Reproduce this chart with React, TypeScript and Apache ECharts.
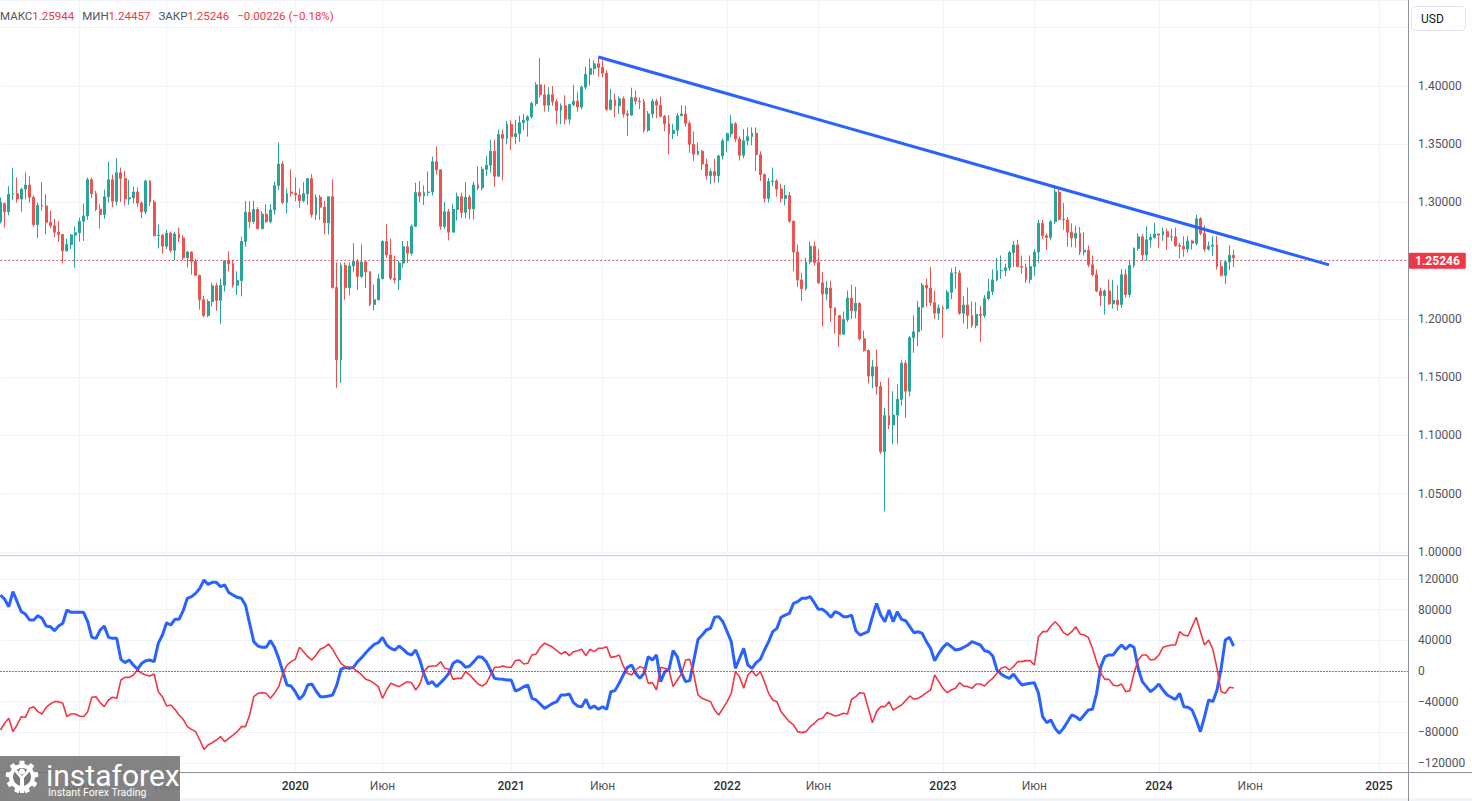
import React, { useEffect, useRef } from 'react';
import * as echarts from 'echarts';

// ---------- time axis ----------
const FIRST_WEEK_UTC = Date.UTC(2018, 7, 27); // Monday 2018-08-27
const WEEK_SLOTS = 340;

const TIME_TICKS: [string, string][] = [
  ['2019-01-07', '2019'], ['2019-06-03', 'Июн'],
  ['2020-01-06', '2020'], ['2020-06-01', 'Июн'],
  ['2021-01-04', '2021'], ['2021-06-07', 'Июн'],
  ['2022-01-03', '2022'], ['2022-06-06', 'Июн'],
  ['2023-01-02', '2023'], ['2023-06-05', 'Июн'],
  ['2024-01-01', '2024'], ['2024-06-03', 'Июн'],
  ['2025-01-06', '2025'],
];

// ---------- weekly candles [open, high, low, close] ----------
const K_2018 = [
  [1.2835, 1.3043, 1.2820, 1.3000], [1.2990, 1.3000, 1.2785, 1.2920], [1.2920, 1.3140, 1.2890, 1.3070],
  [1.3070, 1.3298, 1.3020, 1.3075], [1.3075, 1.3215, 1.3000, 1.3030], [1.3030, 1.3125, 1.2920, 1.3115],
  [1.3115, 1.3258, 1.3030, 1.3150], [1.3150, 1.3225, 1.3000, 1.3045], [1.3045, 1.3060, 1.2790, 1.2810],
  [1.2810, 1.3000, 1.2695, 1.2975], [1.2975, 1.3176, 1.2930, 1.2970], [1.2970, 1.3070, 1.2725, 1.2830],
  [1.2830, 1.2930, 1.2780, 1.2800], [1.2800, 1.2860, 1.2705, 1.2745], [1.2745, 1.2840, 1.2660, 1.2725],
  [1.2725, 1.2730, 1.2477, 1.2585], [1.2585, 1.2690, 1.2580, 1.2640], [1.2640, 1.2730, 1.2600, 1.2720],
  [1.2720, 1.2795, 1.2440, 1.2740],
];
const K_2019 = [
  [1.2740, 1.2870, 1.2665, 1.2840], [1.2840, 1.2990, 1.2670, 1.2885], [1.2885, 1.3215, 1.2850, 1.3195],
  [1.3195, 1.3215, 1.3040, 1.3075], [1.3075, 1.3100, 1.2925, 1.2940], [1.2940, 1.2985, 1.2775, 1.2895],
  [1.2895, 1.3110, 1.2860, 1.3050], [1.3050, 1.3350, 1.3000, 1.3195], [1.3195, 1.3240, 1.2960, 1.3010],
  [1.3010, 1.3380, 1.2975, 1.3255], [1.3255, 1.3300, 1.3005, 1.3205], [1.3205, 1.3270, 1.2975, 1.3030],
  [1.3030, 1.3195, 1.2980, 1.3040], [1.3040, 1.3135, 1.2990, 1.3090], [1.3090, 1.3130, 1.2960, 1.2995],
  [1.2995, 1.3010, 1.2865, 1.2920], [1.2920, 1.3195, 1.2900, 1.3185], [1.3185, 1.3190, 1.2970, 1.3005],
  [1.3005, 1.3020, 1.2710, 1.2715], [1.2715, 1.2810, 1.2605, 1.2720], [1.2720, 1.2730, 1.2560, 1.2625],
  [1.2625, 1.2765, 1.2600, 1.2737], [1.2737, 1.2750, 1.2570, 1.2590], [1.2590, 1.2750, 1.2505, 1.2730],
  [1.2730, 1.2785, 1.2660, 1.2695], [1.2695, 1.2720, 1.2505, 1.2525], [1.2525, 1.2585, 1.2440, 1.2575],
  [1.2575, 1.2580, 1.2380, 1.2495], [1.2495, 1.2520, 1.2370, 1.2375], [1.2375, 1.2380, 1.2080, 1.2165],
  [1.2165, 1.2200, 1.2015, 1.2030], [1.2030, 1.2170, 1.2015, 1.2150], [1.2150, 1.2310, 1.2105, 1.2285],
  [1.2285, 1.2310, 1.2070, 1.2160], [1.2160, 1.2345, 1.1958, 1.2290], [1.2290, 1.2500, 1.2235, 1.2500],
  [1.2500, 1.2582, 1.2410, 1.2475], [1.2475, 1.2505, 1.2270, 1.2290], [1.2290, 1.2410, 1.2205, 1.2330],
  [1.2330, 1.2705, 1.2195, 1.2665], [1.2665, 1.3012, 1.2620, 1.2915], [1.2915, 1.3010, 1.2780, 1.2835],
  [1.2835, 1.3015, 1.2820, 1.2940], [1.2940, 1.2960, 1.2770, 1.2775], [1.2775, 1.2925, 1.2770, 1.2900],
  [1.2900, 1.2985, 1.2825, 1.2835], [1.2835, 1.2985, 1.2820, 1.2935], [1.2935, 1.3180, 1.2895, 1.3145],
  [1.3145, 1.3515, 1.3105, 1.3330], [1.3330, 1.3355, 1.2985, 1.3000], [1.3000, 1.3120, 1.2905, 1.3075],
  [1.3090, 1.3285, 1.3050, 1.3080],
];
const K_2020 = [
  [1.3080, 1.3215, 1.3010, 1.3065], [1.3065, 1.3120, 1.2955, 1.3015], [1.3015, 1.3175, 1.3000, 1.3075],
  [1.3075, 1.3210, 1.2980, 1.3205], [1.3205, 1.3245, 1.2870, 1.2895], [1.2895, 1.3070, 1.2850, 1.3045],
  [1.3045, 1.3065, 1.2850, 1.2960], [1.2960, 1.3015, 1.2725, 1.2825], [1.2825, 1.3050, 1.2725, 1.3050],
  [1.3050, 1.3200, 1.2260, 1.2270], [1.2270, 1.2485, 1.1409, 1.1650], [1.1650, 1.2485, 1.1450, 1.2460],
  [1.2460, 1.2485, 1.2165, 1.2270], [1.2270, 1.2485, 1.2205, 1.2455], [1.2455, 1.2650, 1.2405, 1.2495],
  [1.2495, 1.2515, 1.2250, 1.2365], [1.2365, 1.2640, 1.2350, 1.2490], [1.2490, 1.2500, 1.2265, 1.2405],
  [1.2405, 1.2410, 1.2110, 1.2125], [1.2125, 1.2295, 1.2075, 1.2165], [1.2165, 1.2385, 1.2160, 1.2345],
  [1.2345, 1.2675, 1.2340, 1.2665], [1.2665, 1.2813, 1.2525, 1.2550], [1.2550, 1.2690, 1.2335, 1.2350],
  [1.2350, 1.2545, 1.2305, 1.2335], [1.2335, 1.2500, 1.2250, 1.2480], [1.2480, 1.2670, 1.2440, 1.2620],
  [1.2620, 1.2670, 1.2480, 1.2565], [1.2565, 1.2810, 1.2545, 1.2795], [1.2795, 1.3170, 1.2790, 1.3085],
  [1.3085, 1.3185, 1.3005, 1.3055], [1.3055, 1.3145, 1.2980, 1.3085], [1.3085, 1.3265, 1.3055, 1.3090],
  [1.3090, 1.3395, 1.3060, 1.3350], [1.3350, 1.3480, 1.3240, 1.3280], [1.3280, 1.3285, 1.2765, 1.2795],
  [1.2795, 1.3005, 1.2775, 1.2920], [1.2920, 1.2945, 1.2675, 1.2745], [1.2745, 1.2985, 1.2745, 1.2940],
  [1.2940, 1.3085, 1.2845, 1.3050], [1.3050, 1.3085, 1.2865, 1.2915], [1.2915, 1.3175, 1.2865, 1.3045],
  [1.3045, 1.3065, 1.2855, 1.2945], [1.2945, 1.3180, 1.2855, 1.3150], [1.3150, 1.3310, 1.3105, 1.3125],
  [1.3125, 1.3310, 1.3105, 1.3285], [1.3285, 1.3400, 1.3230, 1.3320], [1.3320, 1.3540, 1.3255, 1.3440],
  [1.3440, 1.3540, 1.3135, 1.3225], [1.3225, 1.3625, 1.3225, 1.3585], [1.3585, 1.3625, 1.3190, 1.3550],
  [1.3550, 1.3700, 1.3500, 1.3670],
];
const K_2021 = [
  [1.3670, 1.3705, 1.3450, 1.3565], [1.3565, 1.3710, 1.3500, 1.3590], [1.3590, 1.3745, 1.3520, 1.3685],
  [1.3685, 1.3760, 1.3620, 1.3705], [1.3705, 1.3750, 1.3565, 1.3735], [1.3735, 1.3865, 1.3720, 1.3850],
  [1.3850, 1.4035, 1.3830, 1.4010], [1.4010, 1.4240, 1.3900, 1.3925], [1.3925, 1.4015, 1.3780, 1.3835],
  [1.3835, 1.3990, 1.3780, 1.3925], [1.3925, 1.4000, 1.3830, 1.3865], [1.3865, 1.3890, 1.3670, 1.3790],
  [1.3790, 1.3850, 1.3670, 1.3830], [1.3830, 1.3920, 1.3670, 1.3715], [1.3715, 1.3845, 1.3670, 1.3840],
  [1.3840, 1.4010, 1.3825, 1.3870], [1.3870, 1.3950, 1.3780, 1.3820], [1.3820, 1.4005, 1.3800, 1.3990],
  [1.3990, 1.4165, 1.3970, 1.4100], [1.4100, 1.4235, 1.4005, 1.4150], [1.4150, 1.4220, 1.4095, 1.4190],
  [1.4190, 1.4250, 1.4080, 1.4160], [1.4160, 1.4220, 1.4075, 1.4110], [1.4110, 1.4135, 1.3785, 1.3800],
  [1.3800, 1.3975, 1.3790, 1.3880], [1.3880, 1.3935, 1.3730, 1.3830], [1.3830, 1.3910, 1.3760, 1.3890],
  [1.3890, 1.3910, 1.3730, 1.3760], [1.3760, 1.3790, 1.3570, 1.3750], [1.3750, 1.3985, 1.3745, 1.3900],
  [1.3900, 1.3960, 1.3840, 1.3870], [1.3870, 1.3900, 1.3800, 1.3865], [1.3865, 1.3890, 1.3600, 1.3620],
  [1.3620, 1.3785, 1.3605, 1.3760], [1.3760, 1.3890, 1.3725, 1.3870], [1.3870, 1.3890, 1.3725, 1.3835],
  [1.3835, 1.3910, 1.3730, 1.3740], [1.3740, 1.3750, 1.3610, 1.3675], [1.3675, 1.3750, 1.3412, 1.3590],
  [1.3590, 1.3675, 1.3545, 1.3620], [1.3620, 1.3770, 1.3570, 1.3745], [1.3745, 1.3835, 1.3740, 1.3760],
  [1.3760, 1.3830, 1.3650, 1.3680], [1.3680, 1.3700, 1.3425, 1.3500], [1.3500, 1.3610, 1.3355, 1.3415],
  [1.3415, 1.3515, 1.3405, 1.3440], [1.3440, 1.3450, 1.3280, 1.3330], [1.3330, 1.3375, 1.3195, 1.3230],
  [1.3230, 1.3290, 1.3160, 1.3265], [1.3265, 1.3375, 1.3170, 1.3230], [1.3230, 1.3410, 1.3170, 1.3400],
  [1.3400, 1.3550, 1.3370, 1.3530],
];
const K_2022 = [
  [1.3530, 1.3600, 1.3430, 1.3590], [1.3590, 1.3750, 1.3560, 1.3675], [1.3675, 1.3690, 1.3520, 1.3545],
  [1.3545, 1.3565, 1.3360, 1.3405], [1.3405, 1.3630, 1.3380, 1.3530], [1.3530, 1.3645, 1.3490, 1.3565],
  [1.3565, 1.3645, 1.3490, 1.3595], [1.3595, 1.3645, 1.3270, 1.3410], [1.3410, 1.3440, 1.3185, 1.3240],
  [1.3240, 1.3250, 1.3000, 1.3035], [1.3035, 1.3210, 1.3000, 1.3180], [1.3180, 1.3300, 1.3140, 1.3185],
  [1.3185, 1.3200, 1.3050, 1.3115], [1.3115, 1.3160, 1.3000, 1.3035], [1.3035, 1.3150, 1.2975, 1.3060],
  [1.3060, 1.3090, 1.2825, 1.2840], [1.2840, 1.2845, 1.2410, 1.2575], [1.2575, 1.2640, 1.2275, 1.2335],
  [1.2335, 1.2395, 1.2155, 1.2260], [1.2260, 1.2525, 1.2245, 1.2490], [1.2490, 1.2665, 1.2470, 1.2625],
  [1.2625, 1.2665, 1.2460, 1.2485], [1.2485, 1.2600, 1.2300, 1.2310], [1.2310, 1.2405, 1.1935, 1.2215],
  [1.2215, 1.2325, 1.2160, 1.2265], [1.2265, 1.2330, 1.1975, 1.2095], [1.2095, 1.2100, 1.1875, 1.2030],
  [1.2030, 1.2030, 1.1760, 1.1870], [1.1870, 1.2065, 1.1865, 1.1995], [1.1995, 1.2245, 1.1975, 1.2180],
  [1.2180, 1.2295, 1.2000, 1.2070], [1.2070, 1.2275, 1.2005, 1.2135], [1.2135, 1.2140, 1.1815, 1.1830],
  [1.1830, 1.1900, 1.1720, 1.1730], [1.1730, 1.1740, 1.1445, 1.1510], [1.1510, 1.1650, 1.1405, 1.1590],
  [1.1590, 1.1740, 1.1350, 1.1420], [1.1420, 1.1460, 1.0840, 1.0860], [1.0860, 1.1235, 1.0350, 1.1170],
  [1.1170, 1.1495, 1.1055, 1.1090], [1.1090, 1.1380, 1.0925, 1.1175], [1.1175, 1.1440, 1.0925, 1.1310],
  [1.1310, 1.1645, 1.1255, 1.1620], [1.1620, 1.1645, 1.1150, 1.1380], [1.1380, 1.1855, 1.1335, 1.1840],
  [1.1840, 1.2030, 1.1710, 1.1890], [1.1890, 1.2155, 1.1765, 1.2100], [1.2100, 1.2310, 1.1900, 1.2290],
  [1.2290, 1.2345, 1.2105, 1.2265], [1.2265, 1.2446, 1.2110, 1.2140], [1.2140, 1.2240, 1.2000, 1.2050],
  [1.2050, 1.2125, 1.1990, 1.2095],
];
const K_2023 = [
  [1.2095, 1.2115, 1.1840, 1.2090], [1.2090, 1.2250, 1.2080, 1.2230], [1.2230, 1.2435, 1.2170, 1.2395],
  [1.2395, 1.2450, 1.2260, 1.2395], [1.2395, 1.2420, 1.2035, 1.2050], [1.2050, 1.2195, 1.1960, 1.2120],
  [1.2120, 1.2270, 1.1915, 1.2030], [1.2030, 1.2150, 1.1925, 1.1945], [1.1945, 1.2145, 1.1920, 1.2040],
  [1.2040, 1.2110, 1.1800, 1.2030], [1.2030, 1.2205, 1.2010, 1.2175], [1.2175, 1.2345, 1.2160, 1.2235],
  [1.2235, 1.2425, 1.2205, 1.2335], [1.2335, 1.2525, 1.2325, 1.2415], [1.2415, 1.2545, 1.2345, 1.2415],
  [1.2415, 1.2475, 1.2365, 1.2440], [1.2440, 1.2585, 1.2415, 1.2570], [1.2570, 1.2670, 1.2445, 1.2635],
  [1.2635, 1.2680, 1.2445, 1.2450], [1.2450, 1.2545, 1.2390, 1.2445], [1.2445, 1.2475, 1.2310, 1.2340],
  [1.2340, 1.2545, 1.2305, 1.2450], [1.2450, 1.2600, 1.2370, 1.2575], [1.2575, 1.2850, 1.2480, 1.2820],
  [1.2820, 1.2850, 1.2685, 1.2715], [1.2715, 1.2735, 1.2590, 1.2700], [1.2700, 1.2850, 1.2675, 1.2835],
  [1.2835, 1.3142, 1.2815, 1.3090], [1.3090, 1.3120, 1.2845, 1.2855], [1.2855, 1.2995, 1.2765, 1.2850],
  [1.2850, 1.2875, 1.2620, 1.2745], [1.2745, 1.2820, 1.2615, 1.2695], [1.2695, 1.2800, 1.2615, 1.2735],
  [1.2735, 1.2790, 1.2550, 1.2575], [1.2575, 1.2745, 1.2545, 1.2590], [1.2590, 1.2630, 1.2445, 1.2465],
  [1.2465, 1.2545, 1.2365, 1.2380], [1.2380, 1.2425, 1.2230, 1.2240], [1.2240, 1.2270, 1.2110, 1.2200],
  [1.2200, 1.2255, 1.2037, 1.2240], [1.2240, 1.2340, 1.2120, 1.2130], [1.2130, 1.2335, 1.2090, 1.2160],
  [1.2160, 1.2290, 1.2070, 1.2125], [1.2125, 1.2430, 1.2095, 1.2380], [1.2380, 1.2430, 1.2185, 1.2210],
  [1.2210, 1.2505, 1.2185, 1.2460], [1.2460, 1.2615, 1.2440, 1.2605], [1.2605, 1.2735, 1.2585, 1.2705],
  [1.2705, 1.2730, 1.2500, 1.2550], [1.2550, 1.2795, 1.2500, 1.2680], [1.2680, 1.2730, 1.2615, 1.2700],
  [1.2700, 1.2825, 1.2690, 1.2730],
];
const K_2024 = [
  [1.2730, 1.2735, 1.2610, 1.2720], [1.2720, 1.2785, 1.2670, 1.2750], [1.2750, 1.2775, 1.2595, 1.2705],
  [1.2705, 1.2775, 1.2670, 1.2705], [1.2705, 1.2785, 1.2620, 1.2630], [1.2630, 1.2650, 1.2520, 1.2625],
  [1.2625, 1.2710, 1.2535, 1.2600], [1.2600, 1.2710, 1.2570, 1.2670], [1.2670, 1.2680, 1.2595, 1.2650],
  [1.2650, 1.2894, 1.2630, 1.2860], [1.2860, 1.2875, 1.2720, 1.2735], [1.2735, 1.2805, 1.2575, 1.2600],
  [1.2600, 1.2665, 1.2585, 1.2625], [1.2625, 1.2710, 1.2540, 1.2635], [1.2635, 1.2710, 1.2425, 1.2450],
  [1.2450, 1.2500, 1.2365, 1.2375], [1.2375, 1.2500, 1.2300, 1.2490], [1.2490, 1.2634, 1.2420, 1.2547],
  [1.25472, 1.25944, 1.24457, 1.25246],
];

// ---------- positioning indicator (weekly) ----------
const BLUE_2018 = [99100, 93500, 83900, 103500, 90400, 77400, 74300, 66500, 66500, 72200, 68700, 58700, 57800, 52600, 58700, 62200, 79600, 76500, 76500];
const BLUE_2019 = [76500, 76500, 64300, 43900, 42600, 53500, 58700, 43900, 42600, 42600, 15200, 10900, 14300, 7800, 2200, 10000, 13500, 14300, 12200, 36100, 46900, 63000, 60000, 67400, 67400, 78700, 94800, 96900, 101300, 107800, 118700, 113000, 115600, 115600, 110000, 112200, 102200, 99100, 96100, 94800, 86100, 62200, 38300, 32600, 30900, 30900, 39600, 30900, 16500, -900, -18300, -19600];
const BLUE_2020 = [-27000, -36900, -31300, -18300, -17000, -26100, -33500, -33500, -32600, -31300, -18300, 2200, 4800, 3500, 4800, 12200, 17400, 23900, 29600, 34800, 36900, 43900, 33900, 29600, 27400, 32600, 28300, 23000, 20900, 27400, 14300, -3900, -17000, -13900, -20400, -15200, -9600, -3000, 10000, 13500, 10900, 4800, 6500, 12200, 18700, 17800, 12200, 1300, -9600, -10400, -10900, -11700];
const BLUE_2021 = [-11700, -26100, -23900, -20400, -18300, -35600, -37800, -43000, -48700, -45600, -42200, -40000, -31300, -31300, -30000, -41300, -45600, -46500, -36900, -48700, -45600, -50000, -46500, -50000, -27000, -25600, -16100, -5200, 4800, 7800, -3000, -9600, -3000, 18700, 14300, 20900, -13900, -900, 2200, 26500, 18700, -2200, -13900, -12600, 14300, 41300, 46900, 53500, 55600, 70000, 70900, 64300];
const BLUE_2022 = [51300, 38300, 3500, 16500, 29600, 7800, 3500, 10900, 15200, 27400, 38300, 51300, 55600, 70000, 73000, 75200, 88200, 90400, 94800, 94800, 96900, 89100, 80400, 80400, 76100, 70000, 77400, 75200, 70900, 70900, 73000, 52600, 46900, 49100, 51300, 70900, 88200, 73000, 64300, 79600, 64300, 77400, 67400, 65600, 57800, 50000, 51300, 49100, 38300, 29600, 13500, 23000];
const BLUE_2023 = [30900, 36100, 31700, 27400, 28300, 30900, 33900, 38300, 36100, 33900, 26500, 25200, 19600, 1300, -3900, -7400, -9600, -3900, -11700, -18300, -17000, -16100, -15200, -29100, -59600, -67400, -63900, -74800, -81300, -74800, -66100, -57400, -59600, -63900, -57400, -50900, -50000, -29100, 5700, 18700, 20900, 20900, 28300, 33900, 28300, 33900, 30900, 3500, -13900, -20400, -27000, -22600];
const BLUE_2024 = [-17000, -24800, -31300, -34300, -36900, -29100, -46500, -47400, -50900, -63900, -79100, -59600, -37800, -40000, -24800, 3500, 40400, 43900, 32600];

const RED_2018 = [-76900, -68200, -61700, -79100, -70400, -59600, -60400, -48700, -46500, -53000, -56100, -47400, -43000, -40000, -40000, -42200, -59600, -56100, -56100];
const RED_2019 = [-58700, -59600, -53000, -34300, -33500, -41300, -46500, -37800, -34300, -35600, -11700, -8300, -8300, -5200, 1300, -3000, -5200, -6500, -3900, -27000, -33500, -45600, -44300, -50000, -57400, -63000, -72600, -76100, -79100, -90000, -102200, -96500, -93500, -90000, -85600, -92200, -87800, -83500, -79100, -72600, -72600, -57400, -33500, -29100, -28300, -29100, -35600, -29100, -20400, -3000, 7800, 12200];
const RED_2020 = [15200, 30900, 25200, 18700, 14300, 20900, 28300, 30900, 35200, 28300, 18700, 10000, 5700, 4800, 3500, -900, -5200, -10900, -12600, -16100, -20400, -35600, -24800, -16100, -18300, -20400, -17000, -13900, -15200, -24800, -17000, -900, 5700, 6500, 6500, 12200, 3500, 2200, -10900, -9600, -9600, -900, -5200, -10900, -17000, -19600, -16100, -5200, 4800, 4800, 6500, 4800];
const RED_2021 = [4800, 13500, 14300, 9100, 10000, 20900, 22200, 30900, 36100, 33900, 30900, 26500, 22200, 25200, 20000, 25200, 26500, 28300, 20000, 28300, 25200, 29600, 29600, 31700, 17800, 18700, 20900, 6500, -3000, -5200, 1300, 5700, 3500, -16100, -15200, -24800, 4800, 3500, 1300, -20400, -11700, -3900, 14300, 15200, -5200, -31300, -35600, -37800, -40000, -50900, -57400, -48700];
const RED_2022 = [-40000, -29100, -900, -7400, -22600, -5200, 400, -6500, -900, -13900, -29100, -37800, -40000, -53000, -59600, -66100, -70400, -79100, -80400, -79100, -72600, -68200, -63000, -61700, -54300, -56100, -58700, -57400, -55200, -56100, -36900, -33500, -28300, -29100, -48700, -67400, -53000, -46500, -46500, -40000, -50900, -47400, -44300, -38700, -32600, -36900, -35600, -32600, -28300, -24800, -5200, -13900];
const RED_2023 = [-22600, -28300, -24800, -22600, -15200, -19600, -20400, -22600, -17000, -17000, -19600, -13900, -9600, -3000, 3500, 5700, 1300, 5700, 12200, 12200, 13500, 13500, 7800, 44800, 51300, 51300, 58700, 64300, 58700, 50000, 46900, 51300, 57800, 48300, 46900, 43900, 29600, 12200, -3000, -10900, -10900, -18300, -19600, -17000, -27000, -25600, -3000, 14300, 20900, 20900, 14300, 15200];
const RED_2024 = [20900, 30900, 32600, 33900, 33900, 51300, 46900, 45600, 57800, 70000, 51300, 33900, 40400, 28300, 3500, -27000, -29100, -21300, -22200];

// ---------- header / annotations ----------
const HEADER_PAIRS: [string, string][] = [['МАКС', '1.25944'], ['МИН', '1.24457'], ['ЗАКР', '1.25246']];
const HEADER_CHANGE = '−0.00226 (−0.18%)';
const LAST_CLOSE = 1.25246;
const TREND_START: [string, number] = ['2021-05-31', 1.4249];
const TREND_END: [string, number] = ['2024-10-14', 1.2464];

const UP = '#26a69a';
const DOWN = '#ef5350';
const GRID_LINE = '#f0f3fa';
const AXIS_TEXT = '#50535e';
const FONT = 'Roboto';

function weekDates(): string[] {
  const out: string[] = [];
  for (let i = 0; i < WEEK_SLOTS; i++) {
    out.push(new Date(FIRST_WEEK_UTC + i * 7 * 86400000).toISOString().slice(0, 10));
  }
  return out;
}

function gearPoints(cx: number, cy: number, rOut: number, rIn: number, teeth: number) {
  const pts: number[][] = [];
  const step = (Math.PI * 2) / teeth;
  for (let k = 0; k < teeth; k++) {
    const a = k * step - Math.PI / 2;
    const list = [[rIn, a - step * 0.3], [rOut, a - step * 0.2], [rOut, a + step * 0.2], [rIn, a + step * 0.3]];
    list.forEach(([r, ang]) => pts.push([cx + r * Math.cos(ang), cy + r * Math.sin(ang)]));
  }
  return pts;
}

export default function App() {
  const ref = useRef<HTMLDivElement>(null);

  useEffect(() => {
    const el = ref.current;
    if (!el) return;
    const chart = echarts.init(el, undefined, { renderer: 'svg' });

    const dates = weekDates();
    const tickMap = new Map(TIME_TICKS);
    const showTick = (_i: number, v: string) => tickMap.has(v);

    const candles = [...K_2018, ...K_2019, ...K_2020, ...K_2021, ...K_2022, ...K_2023, ...K_2024];
    const blue = [...BLUE_2018, ...BLUE_2019, ...BLUE_2020, ...BLUE_2021, ...BLUE_2022, ...BLUE_2023, ...BLUE_2024];
    const red = [...RED_2018, ...RED_2019, ...RED_2020, ...RED_2021, ...RED_2022, ...RED_2023, ...RED_2024];

    const headerText =
      HEADER_PAIRS.map(([l, v]) => `{l|${l}}{v|${v}}`).join('{s| }') + `{s| }{v|${HEADER_CHANGE}}`;

    const baseX = (gridIndex: number, labels: boolean) => ({
      type: 'category',
      gridIndex,
      data: dates,
      boundaryGap: false,
      axisLine: { show: false },
      axisTick: { show: false },
      axisPointer: { show: false },
      splitLine: { show: true, interval: showTick, lineStyle: { color: GRID_LINE, width: 1 } },
      axisLabel: labels
        ? {
            show: true,
            interval: showTick,
            margin: 8,
            formatter: (v: string) => {
              const t = tickMap.get(v) || '';
              return t === 'Июн' ? `{m|${t}}` : `{y|${t}}`;
            },
            rich: {
              y: { fontSize: 12, fontFamily: FONT, color: '#2a2e39', fontWeight: 500 },
              m: { fontSize: 12, fontFamily: FONT, color: AXIS_TEXT },
            },
          }
        : { show: false },
    });

    const gx = 0.5;
    const gr = 64;
    const boxFill = 'rgba(118,118,118,0.9)';
    const lastCloseRounded = Math.round(LAST_CLOSE / 0.05) * 0.05;

    const option: any = {
      animation: false,
      backgroundColor: '#ffffff',
      textStyle: { fontFamily: FONT },
      title: {
        left: 0,
        top: 10,
        padding: 0,
        text: headerText,
        textStyle: {
          fontSize: 11.5,
          fontWeight: 'normal',
          fontFamily: FONT,
          rich: {
            l: { color: '#50535e', fontSize: 11.5, fontFamily: FONT },
            v: { color: '#f23645', fontSize: 11.5, fontFamily: FONT },
            s: { width: 8, fontSize: 11.5 },
          },
        },
      },
      grid: [
        { left: gx, right: gr, top: 0, height: 552 },
        { left: gx, right: gr, top: 556, height: 207 },
        { left: gx, right: gr, top: 763, height: 9 },
      ],
      xAxis: [baseX(0, false), baseX(1, false), baseX(2, true)],
      yAxis: [
        {
          type: 'value',
          gridIndex: 0,
          position: 'right',
          min: 1.0,
          max: 1.4738,
          interval: 0.05,
          axisLine: { show: false },
          axisTick: { show: false },
          splitLine: { show: true, lineStyle: { color: GRID_LINE } },
          axisLabel: {
            margin: 10,
            color: AXIS_TEXT,
            fontSize: 12,
            fontFamily: FONT,
            showMaxLabel: false,
            // the last-price tag covers the nearest scale label; the USD button covers the top one
            formatter: (v: number) =>
              v > 1.42 || Math.abs(v - lastCloseRounded) < 1e-6 ? '' : v.toFixed(5),
          },
        },
        {
          type: 'value',
          gridIndex: 1,
          position: 'right',
          min: -120000,
          max: 150000,
          interval: 40000,
          axisLine: { show: false },
          axisTick: { show: false },
          splitLine: { show: true, lineStyle: { color: GRID_LINE } },
          axisLabel: {
            margin: 10,
            color: AXIS_TEXT,
            fontSize: 12,
            fontFamily: FONT,
            showMaxLabel: false,
            formatter: (v: number) => (v < 0 ? '\u2212' + Math.abs(v) : String(v)),
          },
        },
        { type: 'value', gridIndex: 2, show: false },
      ],
      series: [
        {
          type: 'candlestick',
          xAxisIndex: 0,
          yAxisIndex: 0,
          clip: false,
          barWidth: 2.4,
          data: candles.map(([o, h, l, c]) => [o, c, l, h]),
          itemStyle: { color: UP, color0: DOWN, borderColor: UP, borderColor0: DOWN, borderWidth: 1 },
          markLine: {
            silent: true,
            symbol: ['none', 'none'],
            animation: false,
            label: { show: false },
            data: [
              {
                yAxis: LAST_CLOSE,
                lineStyle: { color: '#f23645', type: [1.5, 2.5], width: 1 },
                label: {
                  show: true,
                  position: 'end',
                  distance: 1,
                  formatter: LAST_CLOSE.toFixed(5),
                  backgroundColor: '#f23645',
                  color: '#ffffff',
                  fontSize: 12,
                  fontWeight: 'bold',
                  fontFamily: FONT,
                  padding: [2, 6, 2, 6],
                  borderRadius: 1,
                },
              },
              [
                { coord: TREND_START, lineStyle: { color: '#2962ff', width: 3, type: 'solid' } },
                { coord: TREND_END, lineStyle: { color: '#2962ff', width: 3, type: 'solid' } },
              ],
            ],
          },
        },
        {
          type: 'line',
          xAxisIndex: 1,
          yAxisIndex: 1,
          data: blue,
          showSymbol: false,
          symbol: 'none',
          lineStyle: { color: '#2962ff', width: 3 },
          z: 3,
          markLine: {
            silent: true,
            symbol: ['none', 'none'],
            label: { show: false },
            data: [{ yAxis: 0, lineStyle: { color: '#131722', type: [1, 2], width: 1 } }],
          },
        },
        {
          type: 'line',
          xAxisIndex: 1,
          yAxisIndex: 1,
          data: red,
          showSymbol: false,
          symbol: 'none',
          lineStyle: { color: '#f23645', width: 1.6 },
          z: 4,
        },
      ],
      graphic: [
        { type: 'line', z: 50, shape: { x1: 0, y1: 555.5, x2: 1408, y2: 555.5 }, style: { stroke: '#d1d4dc', lineWidth: 1 } },
        { type: 'line', z: 50, shape: { x1: 1408.5, y1: 0, x2: 1408.5, y2: 801 }, style: { stroke: '#8e9199', lineWidth: 1 } },
        { type: 'line', z: 50, shape: { x1: 0, y1: 772.5, x2: 1472, y2: 772.5 }, style: { stroke: '#8e9199', lineWidth: 1 } },
        { type: 'rect', z: 40, shape: { x: 0, y: 798, width: 1472, height: 3 }, style: { fill: '#f2f4f8' } },
        {
          type: 'rect', z: 60,
          shape: { x: 1411.5, y: 6.5, width: 54, height: 24, r: 4 },
          style: { fill: '#ffffff', stroke: '#e0e3eb', lineWidth: 1 },
        },
        {
          type: 'text', z: 61, x: 1421, y: 18.5,
          style: { text: 'USD', fill: '#131722', fontSize: 12, fontFamily: FONT, verticalAlign: 'middle', align: 'left' },
        },
        {
          type: 'group', z: 100,
          children: [
            { type: 'rect', z: 100, shape: { x: 0, y: 756, width: 180, height: 45 }, style: { fill: boxFill } },
            { type: 'polygon', z: 101, shape: { points: gearPoints(22, 777, 16.5, 13, 9) }, style: { fill: '#ffffff' } },
            { type: 'circle', z: 102, shape: { cx: 22, cy: 777, r: 9 }, style: { fill: '#7a7a7a' } },
            { type: 'circle', z: 103, shape: { cx: 22, cy: 771.5, r: 3 }, style: { fill: '#ffffff' } },
            {
              type: 'polygon', z: 103,
              shape: { points: [[14, 771], [16.5, 769.5], [22, 776], [27.5, 769.5], [30, 771], [24, 778], [24, 793], [20, 793], [20, 778]] },
              style: { fill: '#ffffff' },
            },
            {
              type: 'text', z: 103, x: 46, y: 775,
              style: { text: 'instaforex', fill: '#ffffff', fontSize: 30, fontFamily: FONT, verticalAlign: 'middle', align: 'left' },
            },
            {
              type: 'text', z: 103, x: 48, y: 792,
              style: { text: 'Instant Forex Trading', fill: '#ffffff', fontSize: 10.5, fontFamily: FONT, verticalAlign: 'middle', align: 'left' },
            },
          ],
        },
      ],
    };

    chart.setOption(option);
    return () => chart.dispose();
  }, []);

  return (
    <div
      ref={ref}
      style={{ position: 'fixed', left: 0, top: 0, width: 1472, height: 801, background: '#ffffff' }}
    />
  );
}
